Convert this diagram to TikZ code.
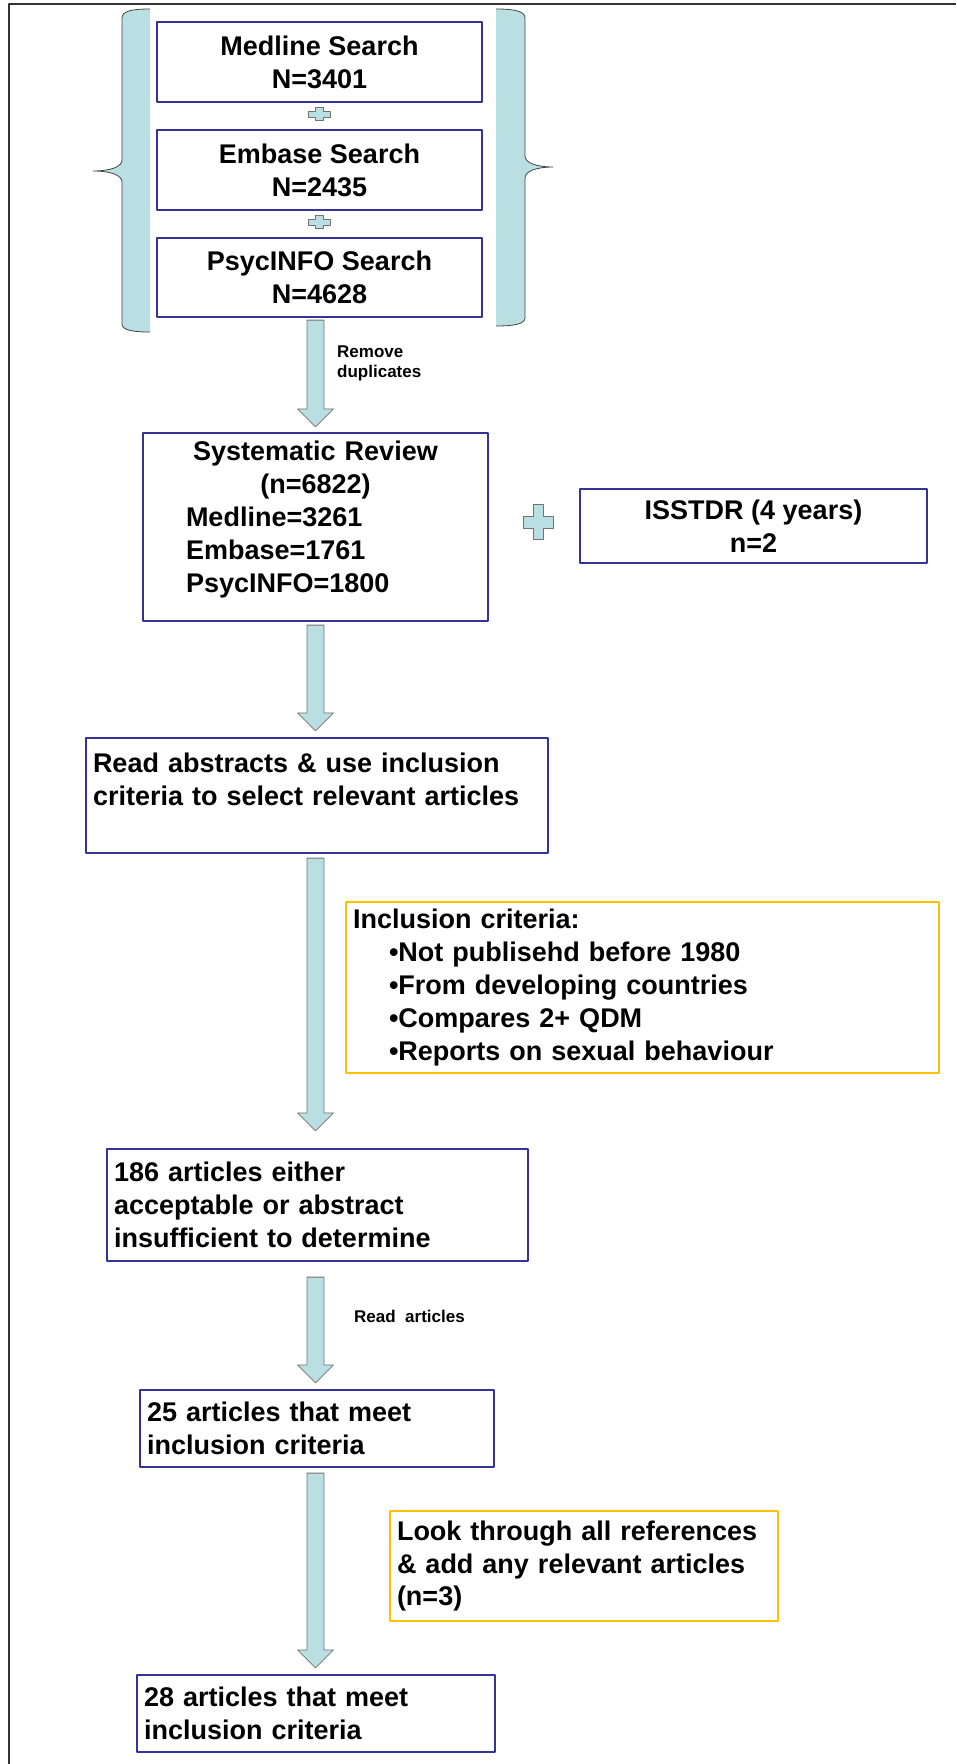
\documentclass[tikz,border=0pt]{standalone}
\usepackage{fontspec}
\setmainfont{Liberation Sans}
\usetikzlibrary{calc}
\definecolor{boxblue}{RGB}{51,51,153}
\definecolor{critorange}{RGB}{255,192,0}
\definecolor{bandfill}{RGB}{185,223,226}
\definecolor{edgegray}{RGB}{115,115,115}
% block arrow from a start point down to a tip
\newcommand{\flowarrow}[2]{%
  \path[flowarrow] let \p1=(#1), \p2=(#2) in
    (\x1-8.5pt,\y1) -- (\x1+8.5pt,\y1) -- (\x1+8.5pt,\y2+18pt)
    -- (\x1+18pt,\y2+18pt) -- (\x2,\y2) -- (\x1-18pt,\y2+18pt)
    -- (\x1-8.5pt,\y2+18pt) -- cycle;}
% plus sign: centre, half width, half height, half arm widths
\newcommand{\plussign}[5]{%
  \path[plusfill] let \p1=(#1) in
    (\x1-#4,\y1+#3) -- (\x1+#4,\y1+#3) -- (\x1+#4,\y1+#5) -- (\x1+#2,\y1+#5)
    -- (\x1+#2,\y1-#5) -- (\x1+#4,\y1-#5) -- (\x1+#4,\y1-#3) -- (\x1-#4,\y1-#3)
    -- (\x1-#4,\y1-#5) -- (\x1-#2,\y1-#5) -- (\x1-#2,\y1+#5) -- (\x1-#4,\y1+#5) -- cycle;}
\begin{document}
\begin{tikzpicture}[x=1pt,y=-1pt,line join=round,
    font=\fontsize{27}{33}\selectfont\bfseries,
    box/.style={draw=boxblue,line width=2.2pt,fill=white,inner sep=7pt},
    critbox/.style={draw=critorange,line width=2.2pt,fill=white,inner sep=7pt},
    flowarrow/.style={draw=edgegray,fill=bandfill,line width=0.8pt},
    plusfill/.style={draw=edgegray,fill=bandfill,line width=0.8pt},
    note/.style={anchor=west,align=left,inner sep=0pt,font=\fontsize{17}{20}\selectfont\bfseries}]
    \useasboundingbox (0,0) rectangle (956,1764);
    \draw[line width=2.5pt,black!80] (9,1764) -- (9,4) -- (956,4);
    % braces round the three searches
    \fill[bandfill] (150,9) .. controls (132,9) and (122,11) .. (122,18) -- (122,160)
        .. controls (122,167) and (110,171) .. (93,171) .. controls (110,171) and (122,175) .. (122,182)
        -- (122,324) .. controls (122,330) and (132,332) .. (150,332) -- cycle;
    \draw[edgegray!60!black,line width=0.8pt] (150,9) .. controls (132,9) and (122,11) .. (122,18) -- (122,160)
        .. controls (122,167) and (110,171) .. (93,171) .. controls (110,171) and (122,175) .. (122,182)
        -- (122,324) .. controls (122,330) and (132,332) .. (150,332);
    \fill[bandfill] (496,9) .. controls (514,9) and (525,11) .. (525,18) -- (525,156)
        .. controls (525,163) and (537,167) .. (553,167) .. controls (537,167) and (525,171) .. (525,178)
        -- (525,318) .. controls (525,324) and (514,326) .. (496,326) -- cycle;
    \draw[edgegray!60!black,line width=0.8pt] (496,9) .. controls (514,9) and (525,11) .. (525,18) -- (525,156)
        .. controls (525,163) and (537,167) .. (553,167) .. controls (537,167) and (525,171) .. (525,178)
        -- (525,318) .. controls (525,324) and (514,326) .. (496,326);
    % boxes
    \node[box,minimum width=325pt,minimum height=80pt,align=center] (medline) at (319.5,62) {Medline Search\\N=3401};
    \node[box,minimum width=325pt,minimum height=80pt,align=center] (embase) at (319.5,170) {Embase Search\\N=2435};
    \node[box,minimum width=325pt,minimum height=79pt,align=center] (psyc) at (319.5,277.5) {PsycINFO Search\\N=4628};
    \node[box,text width=331pt,minimum height=188pt,align=left] (review) at (315.5,527)
        {\makebox[331pt][c]{Systematic Review}\\
         \makebox[331pt][c]{(n=6822)}\\
         \hspace*{36pt}Medline=3261\\
         \hspace*{36pt}Embase=1761\\
         \hspace*{36pt}PsycINFO=1800\rule[-20pt]{0pt}{1pt}};
    \node[box,minimum width=347pt,minimum height=74pt,align=center] (isstdr) at (753.5,526) {ISSTDR (4 years)\\n=2};
    \node[box,text width=448pt,minimum height=115pt,align=left] (abstracts) at (317,795.5)
        {Read abstracts \& use inclusion\\criteria to select relevant articles\rule[-33pt]{0pt}{1pt}};
    \node[critbox,text width=579pt,minimum height=171pt,align=left] (criteria) at (642.5,987.5)
        {Inclusion criteria:\\
         \hspace*{36pt}\textbullet Not publisehd before 1980\\
         \hspace*{36pt}\textbullet From developing countries\\
         \hspace*{36pt}\textbullet Compares 2+ QDM\\
         \hspace*{36pt}\textbullet Reports on sexual behaviour};
    \node[box,text width=407pt,minimum height=112pt,align=left] (found) at (317.5,1205)
        {186 articles either\\acceptable or abstract\\insufficient to determine};
    \node[box,text width=340pt,minimum height=77pt,align=left] (meet25) at (317,1428.5)
        {25 articles that meet\\inclusion criteria};
    \node[critbox,text width=374pt,minimum height=110pt,align=left] (refs) at (584,1566)
        {Look through all references\\\& add any relevant articles\\(n=3)};
    \node[box,text width=344pt,minimum height=77pt,align=left] (meet28) at (316,1713.5)
        {28 articles that meet\\inclusion criteria};
    % notes beside the arrows
    \node[note] (dupl) at (337,363) {Remove\\duplicates};
    \node[note] (readart) at (354,1316) {Read\ \ articles};
    % plus signs
    \coordinate (plusA) at (319,114);
    \coordinate (plusB) at (319,222);
    \coordinate (plusC) at (538,522);
    \plussign{plusA}{11pt}{6.5pt}{4pt}{3pt}
    \plussign{plusB}{11pt}{6.5pt}{4pt}{3pt}
    \plussign{plusC}{15pt}{17.5pt}{5pt}{6pt}
    % arrows
    \coordinate (spine) at (315.5,0);
    \flowarrow{$(psyc.south -| spine)+(0,2)$}{$(review.north -| spine)+(0,-5)$}
    \flowarrow{$(review.south -| spine)+(0,3)$}{$(abstracts.north -| spine)+(0,-6)$}
    \flowarrow{$(abstracts.south -| spine)+(0,4)$}{$(found.north -| spine)+(0,-17)$}
    \flowarrow{$(found.south -| spine)+(0,15)$}{$(meet25.north -| spine)+(0,-6)$}
    \flowarrow{$(meet25.south -| spine)+(0,5)$}{$(meet28.north -| spine)+(0,-6)$}
\end{tikzpicture}
\end{document}
